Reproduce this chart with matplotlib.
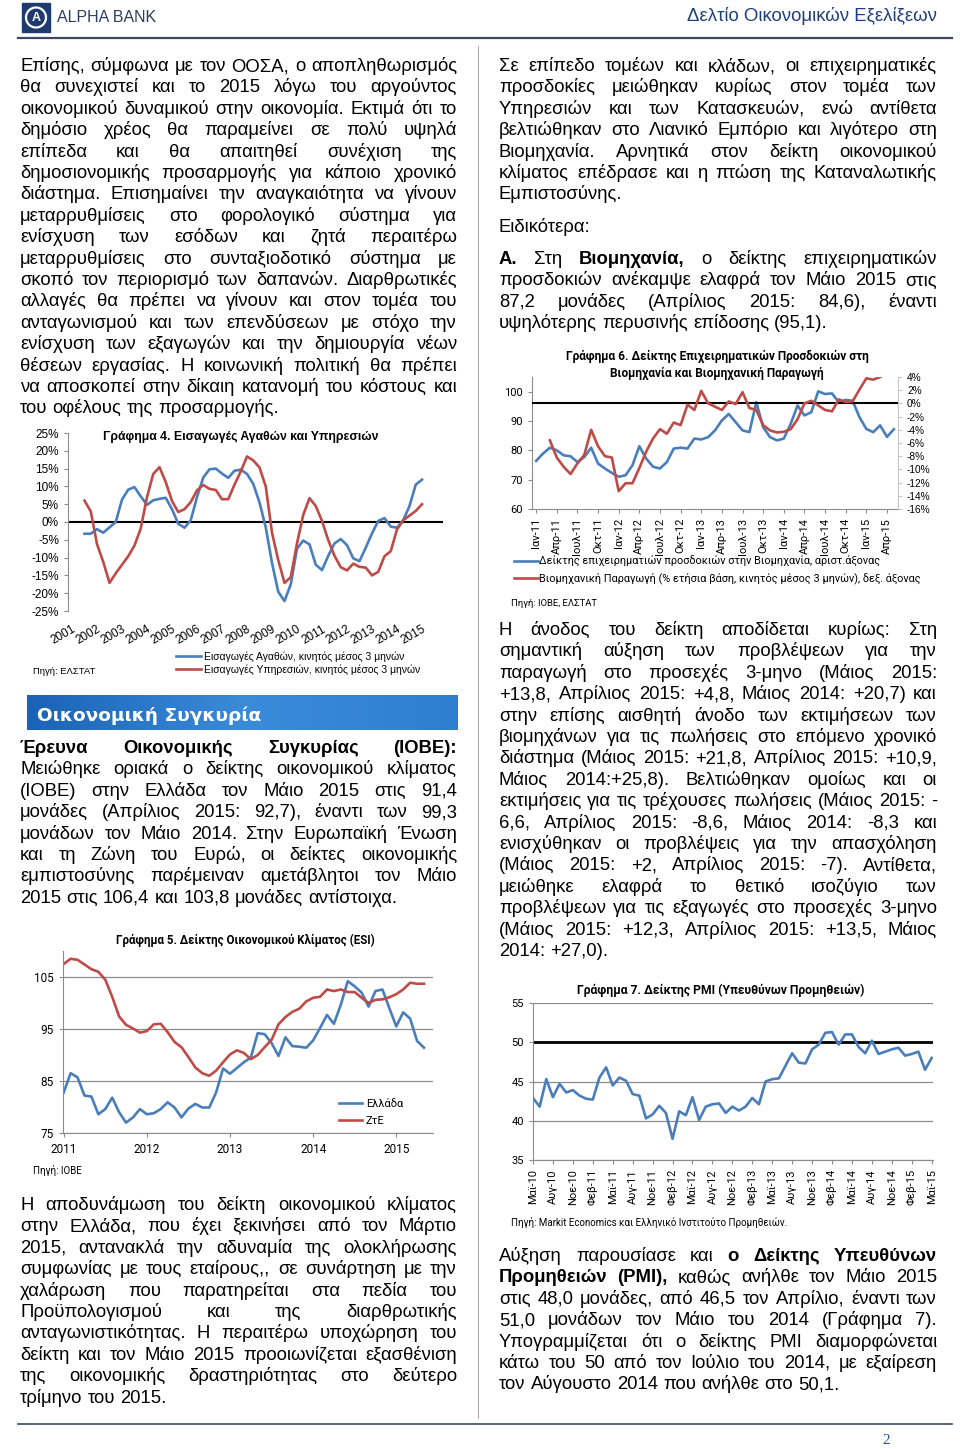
import numpy as np
import matplotlib
matplotlib.use('Agg')
from matplotlib import pyplot as plt
from matplotlib.patches import Rectangle, Ellipse
from matplotlib.colors import LinearSegmentedColormap
from matplotlib.ticker import FuncFormatter

# ---------------- data ----------------
# Γράφημα 4: quarterly points, 3-month moving average (%), from mid-2001
goods_imports = [-3.3, -3.3, -2.0, -3.0, -1.5, 0.0, 6.3, 9.1, 9.8, 7.2,
                 4.8, 6.1, 6.5, 6.8, 3.6, -0.5, -1.6, 0.5, 7.0, 12.5,
                 14.8, 15.0, 13.6, 12.4, 14.4, 14.7, 13.5, 10.7, 5.5, -1.5,
                 -11.5, -19.6, -22.2, -17.5, -7.5, -5.2, -6.3, -12.0, -13.5, -9.5,
                 -6.0, -4.8, -6.5, -10.2, -11.0, -7.2, -3.2, 0.3, 1.1, -1.3,
                 -1.6, 0.5, 4.5, 10.5, 11.9]
services_imports = [6.0, 3.0, -6.2, -11.2, -17.1, -14.4, -12.0, -9.6, -6.6, -1.8,
                    7.0, 13.5, 15.4, 11.2, 5.9, 2.8, 3.6, 5.6, 8.9, 10.4,
                    9.3, 9.0, 6.4, 6.4, 10.5, 14.2, 18.4, 17.3, 15.3, 10.0,
                    -3.0, -10.7, -17.1, -15.5, -6.0, 2.0, 6.7, 4.5, 0.3, -5.1,
                    -9.5, -12.7, -13.6, -11.7, -12.6, -12.8, -15.0, -14.0, -9.6, -8.2,
                    -2.1, 0.5, 1.8, 3.1, 5.0]
years4 = list(range(2001, 2016))

# Γράφημα 5: ESI monthly Jan 2011 - May 2015
esi_greece = [82.8, 86.5, 85.7, 82.2, 82.0, 78.6, 79.6, 81.8, 79.0, 77.0,
              78.0, 79.6, 78.6, 78.8, 79.6, 80.9, 79.9, 78.0, 79.7, 80.6,
              79.9, 79.9, 82.8, 87.4, 86.4, 87.5, 88.6, 89.5, 94.2, 94.0,
              92.3, 89.8, 93.4, 91.7, 91.6, 91.4, 92.8, 95.2, 97.7, 96.0,
              99.7, 104.2, 103.2, 102.0, 99.3, 102.3, 102.6, 99.0, 95.5, 98.2,
              97.0, 92.7, 91.4]
esi_ez = [107.5, 108.5, 108.3, 107.4, 106.5, 106.0, 104.5, 101.2, 97.4, 95.8,
          95.1, 94.3, 94.6, 95.9, 96.0, 94.4, 92.5, 91.5, 89.6, 87.6,
          86.5, 86.0, 87.0, 88.6, 90.1, 90.9, 90.4, 89.2, 90.0, 91.5,
          92.9, 95.9, 97.3, 98.3, 98.9, 100.3, 101.0, 101.2, 102.6, 102.3,
          102.6, 102.1, 102.1, 101.0, 100.0, 100.6, 100.7, 101.1, 101.7, 102.6,
          103.9, 103.7, 103.7]
years5 = ['2011', '2012', '2013', '2014', '2015']

# Γράφημα 6: monthly Jan 2011 - May 2015 (industrial production from Mar 2011)
ind_expect = [76.4, 78.9, 80.9, 80.0, 78.3, 78.0, 76.0, 77.7, 80.9, 75.5,
              73.8, 72.3, 71.0, 71.5, 74.9, 81.4, 77.2, 74.4, 73.8, 76.0,
              80.6, 80.9, 80.6, 84.0, 83.7, 84.5, 86.8, 90.2, 92.4, 89.6,
              86.8, 86.2, 96.4, 87.9, 84.5, 83.4, 84.0, 89.0, 95.3, 91.9,
              93.0, 100.1, 99.2, 99.4, 96.4, 97.2, 96.9, 91.3, 87.3, 86.2,
              88.5, 84.6, 87.2]
ind_prod = [-5.6, -8.2, -9.6, -10.7, -9.1, -7.8, -4.0, -6.5, -8.0, -8.2,
            -13.3, -12.1, -12.1, -9.8, -7.3, -5.3, -3.9, -4.6, -2.9, -3.3,
            -0.2, -1.0, 1.9, 0.0, -0.5, -1.0, 0.3, -0.1, 1.7, -0.7,
            -1.0, -3.3, -4.1, -4.4, -4.3, -3.9, -2.4, 0.0, 0.4, -0.3,
            -1.0, -1.2, 0.6, 0.2, 0.3, 2.1, 3.8, 3.6, 4.0]
months6 = ['Ιαν-11', 'Απρ-11', 'Ιουλ-11', 'Οκτ-11', 'Ιαν-12', 'Απρ-12', 'Ιουλ-12', 'Οκτ-12',
           'Ιαν-13', 'Απρ-13', 'Ιουλ-13', 'Οκτ-13', 'Ιαν-14', 'Απρ-14', 'Ιουλ-14', 'Οκτ-14',
           'Ιαν-15', 'Απρ-15']

# Γράφημα 7: PMI monthly May 2010 - May 2015
pmi = [42.9, 41.8, 45.3, 43.0, 44.7, 43.6, 43.9, 43.2, 42.8, 42.7,
       45.5, 46.8, 44.5, 45.5, 45.1, 43.4, 43.2, 40.3, 40.8, 41.9,
       41.0, 37.7, 41.2, 40.7, 43.0, 40.1, 41.8, 42.1, 42.2, 41.0,
       41.8, 41.3, 41.8, 42.9, 42.1, 45.0, 45.3, 45.4, 47.0, 48.6,
       47.4, 47.3, 49.1, 49.7, 51.2, 51.3, 49.7, 51.0, 51.0, 49.4,
       48.6, 50.2, 48.5, 48.8, 49.1, 49.3, 48.3, 48.5, 48.8, 46.5,
       48.0]
months7 = ['Μαϊ-10', 'Αυγ-10', 'Νοε-10', 'Φεβ-11', 'Μαϊ-11', 'Αυγ-11', 'Νοε-11',
           'Φεβ-12', 'Μαϊ-12', 'Αυγ-12', 'Νοε-12', 'Φεβ-13', 'Μαϊ-13', 'Αυγ-13',
           'Νοε-13', 'Φεβ-14', 'Μαϊ-14', 'Αυγ-14', 'Νοε-14', 'Φεβ-15', 'Μαϊ-15']

# page text (words with * are bold)
left_p1 = [
    "Επίσης, σύμφωνα με τον ΟΟΣΑ, ο αποπληθωρισμός",
    "θα συνεχιστεί και το 2015 λόγω του αργούντος",
    "οικονομικού δυναμικού στην οικονομία. Εκτιμά ότι το",
    "δημόσιο χρέος θα παραμείνει σε πολύ υψηλά",
    "επίπεδα και θα απαιτηθεί συνέχιση της",
    "δημοσιονομικής προσαρμογής για κάποιο χρονικό",
    "διάστημα. Επισημαίνει την αναγκαιότητα να γίνουν",
    "μεταρρυθμίσεις στο φορολογικό σύστημα για",
    "ενίσχυση των εσόδων και ζητά περαιτέρω",
    "μεταρρυθμίσεις στο συνταξιοδοτικό σύστημα με",
    "σκοπό τον περιορισμό των δαπανών. Διαρθρωτικές",
    "αλλαγές θα πρέπει να γίνουν και στον τομέα του",
    "ανταγωνισμού και των επενδύσεων με στόχο την",
    "ενίσχυση των εξαγωγών και την δημιουργία νέων",
    "θέσεων εργασίας. Η κοινωνική πολιτική θα πρέπει",
    "να αποσκοπεί στην δίκαιη κατανομή του κόστους και",
    "του οφέλους της προσαρμογής.",
]
left_p2 = [
    "*Έρευνα *Οικονομικής *Συγκυρίας *(ΙΟΒΕ):",
    "Μειώθηκε οριακά ο δείκτης οικονομικού κλίματος",
    "(ΙΟΒΕ) στην Ελλάδα τον Μάιο 2015 στις 91,4",
    "μονάδες (Απρίλιος 2015: 92,7), έναντι των 99,3",
    "μονάδων τον Μάιο 2014. Στην Ευρωπαϊκή Ένωση",
    "και τη Ζώνη του Ευρώ, οι δείκτες οικονομικής",
    "εμπιστοσύνης παρέμειναν αμετάβλητοι τον Μάιο",
    "2015 στις 106,4 και 103,8 μονάδες αντίστοιχα.",
]
left_p3 = [
    "Η αποδυνάμωση του δείκτη οικονομικού κλίματος",
    "στην Ελλάδα, που έχει ξεκινήσει από τον Μάρτιο",
    "2015, αντανακλά την αδυναμία της ολοκλήρωσης",
    "συμφωνίας με τους εταίρους,, σε συνάρτηση με την",
    "χαλάρωση που παρατηρείται στα πεδία του",
    "Προϋπολογισμού και της διαρθρωτικής",
    "ανταγωνιστικότητας. Η περαιτέρω υποχώρηση του",
    "δείκτη και τον Μάιο 2015 προοιωνίζεται εξασθένιση",
    "της οικονομικής δραστηριότητας στο δεύτερο",
    "τρίμηνο του 2015.",
]
right_p1 = [
    "Σε επίπεδο τομέων και κλάδων, οι επιχειρηματικές",
    "προσδοκίες μειώθηκαν κυρίως στον τομέα των",
    "Υπηρεσιών και των Κατασκευών, ενώ αντίθετα",
    "βελτιώθηκαν στο Λιανικό Εμπόριο και λιγότερο στη",
    "Βιομηχανία. Αρνητικά στον δείκτη οικονομικού",
    "κλίματος επέδρασε και η πτώση της Καταναλωτικής",
    "Εμπιστοσύνης.",
]
right_p2 = [
    "*Α. Στη *Βιομηχανία, ο δείκτης επιχειρηματικών",
    "προσδοκιών ανέκαμψε ελαφρά τον Μάιο 2015 στις",
    "87,2 μονάδες (Απρίλιος 2015: 84,6), έναντι",
    "υψηλότερης περυσινής επίδοσης (95,1).",
]
right_p3 = [
    "Η άνοδος του δείκτη αποδίδεται κυρίως: Στη",
    "σημαντική αύξηση των προβλέψεων για την",
    "παραγωγή στο προσεχές 3-μηνο (Μάιος 2015:",
    "+13,8, Απρίλιος 2015: +4,8, Μάιος 2014: +20,7) και",
    "στην επίσης αισθητή άνοδο των εκτιμήσεων των",
    "βιομηχάνων για τις πωλήσεις στο επόμενο χρονικό",
    "διάστημα (Μάιος 2015: +21,8, Απρίλιος 2015: +10,9,",
    "Μάιος 2014:+25,8). Βελτιώθηκαν ομοίως και οι",
    "εκτιμήσεις για τις τρέχουσες πωλήσεις (Μάιος 2015: -",
    "6,6, Απρίλιος 2015: -8,6, Μάιος 2014: -8,3 και",
    "ενισχύθηκαν οι προβλέψεις για την απασχόληση",
    "(Μάιος 2015: +2, Απρίλιος 2015: -7). Αντίθετα,",
    "μειώθηκε ελαφρά το θετικό ισοζύγιο των",
    "προβλέψεων για τις εξαγωγές στο προσεχές 3-μηνο",
    "(Μάιος 2015: +12,3, Απρίλιος 2015: +13,5, Μάιος",
    "2014: +27,0).",
]
right_p4 = [
    "Αύξηση παρουσίασε και *ο *Δείκτης *Υπευθύνων",
    "*Προμηθειών *(PMI), καθώς ανήλθε τον Μάιο 2015",
    "στις 48,0 μονάδες, από 46,5 τον Απρίλιο, έναντι των",
    "51,0 μονάδων τον Μάιο του 2014 (Γράφημα 7).",
    "Υπογραμμίζεται ότι ο δείκτης PMI διαμορφώνεται",
    "κάτω του 50 από τον Ιούλιο του 2014, με εξαίρεση",
    "τον Αύγουστο 2014 που ανήλθε στο 50,1.",
]

# ---------------- style ----------------
W, H = 960, 1449
BLUE = '#4a7ebb'
RED = '#be4b48'
GREY = '#8c8c8c'
ARIAL = ['Liberation Sans', 'DejaVu Sans']
CALIBRI = ['Roboto', 'DejaVu Sans']
BODY = 13.3
LW = 1.9

fig = plt.figure(figsize=(W / 100, H / 100), dpi=100)
page = fig.add_axes([0, 0, 1, 1])
page.axis('off')
renderer = fig.canvas.get_renderer()


def box(l, t, r, b):
    ax = fig.add_axes([l / W, 1 - b / H, (r - l) / W, (b - t) / H])
    ax.set_facecolor('none')
    return ax


def paragraph(lines, x0, x1, y0, step=21.4, size=BODY):
    for k, line in enumerate(lines):
        y = y0 + k * step
        words = []
        for w in line.split():
            bold = w.startswith('*')
            t = page.text(x0, y, w.replace('*', ''), fontsize=size, family=ARIAL,
                          weight='bold' if bold else 'normal', va='baseline', ha='left')
            words.append(t)
        widths = [t.get_window_extent(renderer).width for t in words]
        if len(words) > 1 and k < len(lines) - 1:
            gap = (x1 - x0 - sum(widths)) / (len(words) - 1)
        else:
            gap = size * 100 / 72 * 0.278
        x = x0
        for t, w in zip(words, widths):
            t.set_x(x)
            x += w + gap


def plain_axes(ax, color=GREY):
    for s in ['top', 'right']:
        ax.spines[s].set_visible(False)
    for s in ['left', 'bottom']:
        ax.spines[s].set_color(color)
        ax.spines[s].set_linewidth(0.8)
    ax.tick_params(colors=color, labelcolor='black', width=0.8, length=3)


pct = FuncFormatter(lambda v, p: f'{v:.0f}%')

# ---------------- page furniture ----------------
page.set_xlim(0, W)
page.set_ylim(H, 0)
page.add_patch(Rectangle((22, 3), 28, 29, color='#1e3a6e'))
page.add_patch(Ellipse((36, 17.5), 20, 20, fill=False, ec='white', lw=1.6))
page.text(36, 18, 'A', color='white', fontsize=9, weight='bold', ha='center', va='center', family=ARIAL)
page.text(57, 22, 'ALPHA BANK', fontsize=11.5, color='#2d3e5e', family=ARIAL, va='baseline')
page.text(937, 21, 'Δελτίο Οικονομικών Εξελίξεων', fontsize=13.4, color='#1f3f7a',
          family=ARIAL, ha='right', va='baseline')
page.plot([18, 952], [38, 38], color='#3b4a60', lw=1.6)
page.plot([478, 478], [46, 1418], color='#9a9a9a', lw=0.6)
page.plot([18, 952], [1424, 1424], color='#3b4a60', lw=1.2)
page.text(886, 1440, '2', fontsize=11, color='#2a4f9a', family=['Liberation Serif', 'DejaVu Serif'],
          ha='center', va='center')

grad = LinearSegmentedColormap.from_list('band', ['#1b63b6', '#3a8bd8', '#2f7fd0'])
page.imshow(np.linspace(0, 1, 200)[None, :], cmap=grad, aspect='auto',
            extent=[27, 458, 730, 695], zorder=1)
page.text(37, 721, 'Οικονομική Συγκυρία', color='white', fontsize=13.3, weight='bold',
          family=['DejaVu Sans'], va='baseline', zorder=2)
page.set_xlim(0, W)
page.set_ylim(H, 0)

paragraph(left_p1, 20, 457, 71)
paragraph(left_p2, 20, 457, 753)
paragraph(left_p3, 20, 457, 1210)
paragraph(right_p1, 499, 937, 71)
paragraph(['Ειδικότερα:'], 499, 937, 232)
paragraph(right_p2, 499, 937, 264)
paragraph(right_p3, 499, 937, 635)
paragraph(right_p4, 499, 937, 1261)

# ---------------- Γράφημα 4 ----------------
ax4 = box(68, 433, 443, 611)
qx = 2001.5 + 0.25 * np.arange(len(goods_imports))
g4, = ax4.plot(qx, goods_imports, color=BLUE, lw=LW)
s4, = ax4.plot(qx, services_imports, color=RED, lw=LW)
ax4.axhline(0, color='black', lw=1.5, zorder=0)
ax4.set_xlim(2000.84, 2015.84)
ax4.set_ylim(-25, 25)
ax4.set_yticks(range(-25, 30, 5))
ax4.yaxis.set_major_formatter(pct)
ax4.set_xticks(years4)
ax4.set_xticklabels([str(y) for y in years4], rotation=30, ha='right', rotation_mode='anchor')
plain_axes(ax4)
ax4.spines['bottom'].set_visible(False)
ax4.tick_params(axis='x', length=0, pad=9)
ax4.tick_params(labelsize=8.5)
for t in ax4.get_xticklabels() + ax4.get_yticklabels():
    t.set_family(ARIAL)
ax4.legend([g4, s4], ['Εισαγωγές Αγαθών, κινητός μέσος 3 μηνών',
                      'Εισαγωγές Υπηρεσιών, κινητός μέσος 3 μηνών'],
           loc='upper left', bbox_to_anchor=(176, 651), bbox_transform=page.transData,
           frameon=False, borderpad=0, borderaxespad=0, handlelength=2.4,
           handletextpad=0.3, labelspacing=0.25, prop={'family': ARIAL, 'size': 7.5})
page.text(241, 437, 'Γράφημα 4. Εισαγωγές Αγαθών και Υπηρεσιών', ha='center', va='center',
          fontsize=8.8, weight='bold', family=ARIAL)
page.text(33, 672, 'Πηγή: ΕΛΣΤΑΤ', fontsize=6.8, family=ARIAL, va='center')

# ---------------- Γράφημα 5 ----------------
ax5 = box(63, 951, 433, 1133)
mx5 = np.arange(len(esi_greece))
gr5, = ax5.plot(mx5, esi_greece, color=BLUE, lw=LW)
ez5, = ax5.plot(mx5, esi_ez, color=RED, lw=LW)
ax5.set_xlim(-0.1, 53.3)
ax5.set_ylim(75, 110)
ax5.set_yticks([75, 85, 95, 105])
ax5.set_xticks(range(0, 53, 12))
ax5.set_xticklabels(years5)
ax5.yaxis.grid(True, color=GREY, lw=0.9)
ax5.set_axisbelow(True)
plain_axes(ax5)
ax5.tick_params(labelsize=8.5, pad=4)
for t in ax5.get_xticklabels() + ax5.get_yticklabels():
    t.set_family(CALIBRI)
ax5.legend([gr5, ez5], ['Ελλάδα', 'ΖτΕ'], loc='upper left', bbox_to_anchor=(339, 1099),
           bbox_transform=page.transData, frameon=False, borderpad=0, borderaxespad=0,
           handlelength=2.1, handletextpad=0.3, labelspacing=0.65,
           prop={'family': CALIBRI, 'size': 8})
page.text(245, 940, 'Γράφημα 5. Δείκτης Οικονομικού Κλίματος (ESI)', ha='center', va='center',
          fontsize=8.3, weight='bold', family=CALIBRI)
page.text(33, 1171, 'Πηγή: ΙΟΒΕ', fontsize=7, family=CALIBRI, va='center')

# ---------------- Γράφημα 6 ----------------
ax6 = box(532, 377, 898, 509)
mx6 = np.arange(len(ind_expect))
e6, = ax6.plot(mx6, ind_expect, color=BLUE, lw=LW, zorder=3)
ax6.set_xlim(-0.6, 52.6)
ax6.set_ylim(60, 105)
ax6.set_yticks(range(60, 101, 10))
ax6.set_xticks(range(0, 53, 3))
ax6.set_xticklabels(months6, rotation=90)
plain_axes(ax6)
ax6.tick_params(labelsize=8)
for t in ax6.get_xticklabels() + ax6.get_yticklabels():
    t.set_family(CALIBRI)
ax6r = ax6.twinx()
ax6r.set_facecolor('none')
ax6r.axhline(0, color='black', lw=1.5)
p6, = ax6r.plot(np.arange(2, 2 + len(ind_prod)), ind_prod, color=RED, lw=LW)
ax6r.set_xlim(-0.6, 52.6)
ax6r.set_ylim(-16, 4)
ax6r.set_yticks(range(-16, 5, 2))
ax6r.yaxis.set_major_formatter(pct)
for s in ['top', 'left', 'bottom']:
    ax6r.spines[s].set_visible(False)
ax6r.spines['right'].set_color('#c8c8c8')
ax6r.tick_params(colors='#c8c8c8', labelcolor='black', labelsize=7.3, length=3)
for t in ax6r.get_yticklabels():
    t.set_family(ARIAL)
ax6.legend([e6, p6], ['Δείκτης επιχειρηματιών προσδοκιών στην Βιομηχανία, αριστ.άξονας',
                      'Βιομηχανική Παραγωγή (% ετήσια βάση, κινητός μέσος 3 μηνών), δεξ. άξονας'],
           loc='upper left', bbox_to_anchor=(514, 556), bbox_transform=page.transData,
           frameon=False, borderpad=0, borderaxespad=0, handlelength=2.2,
           handletextpad=0.15, labelspacing=0.5, prop={'family': CALIBRI, 'size': 7.8})
page.text(717, 356, 'Γράφημα 6. Δείκτης Επιχειρηματικών Προσδοκιών στη', ha='center', va='center',
          fontsize=8.6, weight='bold', family=CALIBRI)
page.text(717, 373, 'Βιομηχανία και Βιομηχανική Παραγωγή', ha='center', va='center',
          fontsize=8.6, weight='bold', family=CALIBRI)
page.text(511, 603, 'Πηγή: ΙΟΒΕ, ΕΛΣΤΑΤ', fontsize=6.8, family=CALIBRI, va='center')

# ---------------- Γράφημα 7 ----------------
ax7 = box(533, 1003, 933, 1160)
mx7 = np.arange(len(pmi))
ax7.plot(mx7, pmi, color=BLUE, lw=LW, zorder=3)
ax7.axhline(50, color='black', lw=2, zorder=2)
ax7.set_xlim(0, 60.2)
ax7.set_ylim(35, 55)
ax7.set_yticks(range(35, 56, 5))
ax7.set_xticks(range(0, 61, 3))
ax7.set_xticklabels(months7, rotation=90)
ax7.yaxis.grid(True, color=GREY, lw=0.9)
ax7.set_axisbelow(True)
plain_axes(ax7)
ax7.tick_params(labelsize=8)
for t in ax7.get_xticklabels() + ax7.get_yticklabels():
    t.set_family(CALIBRI)
page.text(721, 990, 'Γράφημα 7. Δείκτης PMI (Υπευθύνων Προμηθειών)', ha='center', va='center',
          fontsize=8.7, weight='bold', family=CALIBRI)
page.text(511, 1222, 'Πηγή: Markit Economics και Ελληνικό Ινστιτούτο Προμηθειών.',
          fontsize=7, family=CALIBRI, va='center')

fig.savefig('out.png', dpi=100)
